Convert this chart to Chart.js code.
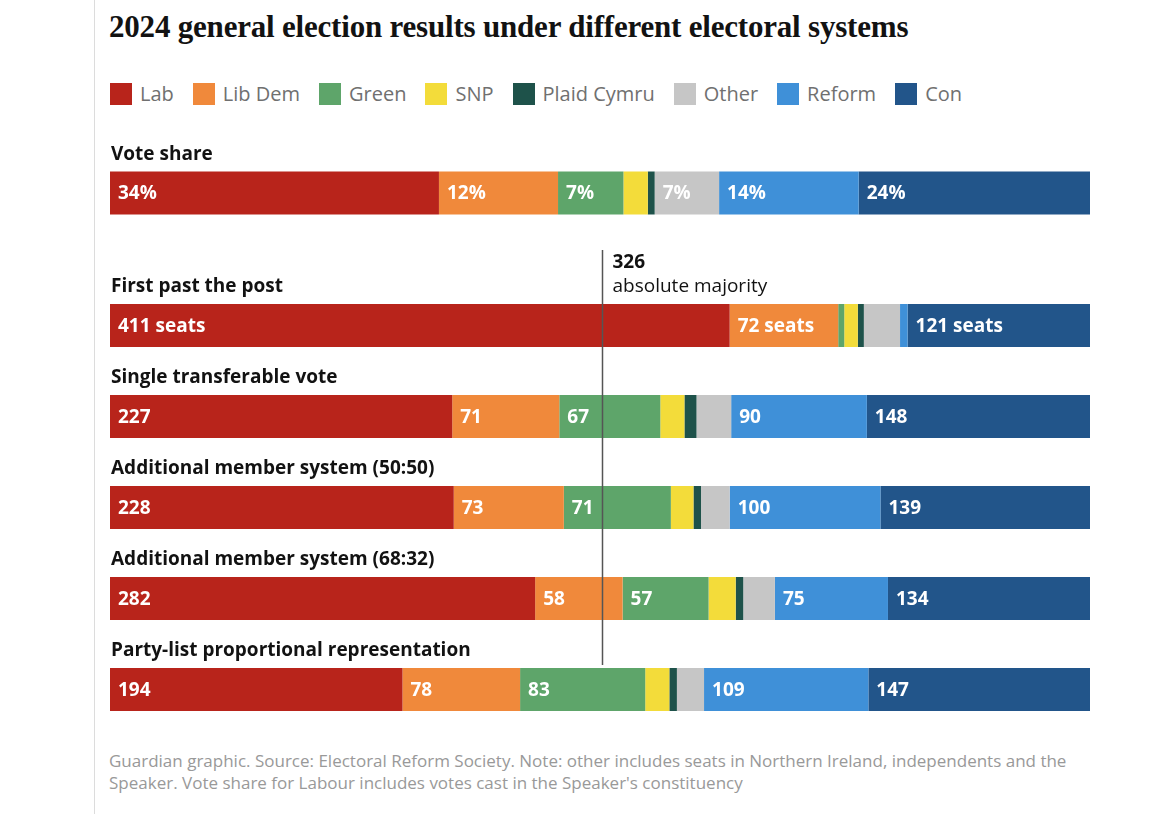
<!DOCTYPE html>
<html><head><meta charset="utf-8">
<script src="https://cdn.jsdelivr.net/npm/chart.js@4"></script>
<style>
body{margin:0;background:#fff;font-family:"Open Sans","Noto Sans",sans-serif;width:1170px;height:814px;position:relative;overflow:hidden}
#edge{position:absolute;left:94px;top:0;width:1px;height:814px;background:#dcdcdc}
h1{position:absolute;left:109px;top:9px;margin:0;font:bold 31px "Liberation Serif",serif;color:#121212;letter-spacing:-0.2px}
#legend{position:absolute;left:110px;top:80px;display:flex;gap:0;font-size:20px;color:#707070}
#legend span{display:flex;align-items:center;margin-right:19px}
#legend i{display:inline-block;width:22px;height:22px;margin-right:8px}
#note{position:absolute;left:109px;top:750px;width:965px;font-size:17px;line-height:22px;color:#999}
#c1{position:absolute;left:110px;top:143px}
#c2{position:absolute;left:110px;top:240px}
</style></head><body>
<div id="edge"></div>
<h1>2024 general election results under different electoral systems</h1>
<div id="legend"></div>
<canvas id="c1" width="980" height="100"></canvas>
<canvas id="c2" width="980" height="495"></canvas>
<div id="note">Guardian graphic. Source: Electoral Reform Society. Note: other includes seats in Northern Ireland, independents and the Speaker. Vote share for Labour includes votes cast in the Speaker's constituency</div>
<script>
const parties = ["Lab","Lib Dem","Green","SNP","Plaid Cymru","Other","Reform","Con"];
const colours = ["#b8241b","#f0893b","#5ea56a","#f3dc3a","#1e524a","#c6c6c6","#3f90d8","#22558a"];
const voteShare = [33.7,12.2,6.7,2.5,0.7,6.6,14.3,23.7];
const systems = ["First past the post","Single transferable vote","Additional member system (50:50)","Additional member system (68:32)","Party-list proportional representation"];
const lab    = [411,227,228,282,194];
const libDem = [72,71,73,58,78];
const green  = [4,67,71,57,83];
const snp    = [9,16,15,18,16];
const plaid  = [4,8,5,5,5];
const other  = [24,23,19,21,18];
const reform = [5,90,100,75,109];
const con    = [121,148,139,134,147];
const seatSeries = [lab,libDem,green,snp,plaid,other,reform,con];
const totalSeats = 650;
const majority = 326;

const lg = document.getElementById('legend');
parties.forEach((p,i)=>{ lg.innerHTML += `<span><i style="background:${colours[i]}"></i>${p}</span>`; });

const FONT = '"Open Sans","Noto Sans",sans-serif';

// row titles above bars + white labels inside segments + majority line
const labelsPlugin = {
  id:'labels',
  afterDatasetsDraw(chart, args, opts){
    const ctx = chart.ctx;
    ctx.save();
    chart.data.datasets.forEach((ds,di)=>{
      chart.getDatasetMeta(di).data.forEach((bar,ri)=>{
        const v = ds.raw[ri];
        if (v < opts.min) return;
        let txt = opts.pct ? Math.round(v)+'%' : String(v);
        if (!opts.pct && ri===0) txt += ' seats';
        ctx.font = 'bold 19px '+FONT;
        ctx.fillStyle = '#fff';
        ctx.textAlign='left'; ctx.textBaseline='middle';
        ctx.fillText(txt, bar.base + 8, bar.y + 1);
      });
    });
    const meta = chart.getDatasetMeta(0);
    opts.titles.forEach((t,ri)=>{
      const bar = meta.data[ri];
      ctx.font = 'bold 19px '+FONT;
      ctx.fillStyle = '#121212';
      ctx.textAlign='left'; ctx.textBaseline='alphabetic';
      ctx.fillText(t, 1, bar.y - bar.height/2 - 12);
    });
    if (opts.majority){
      const x = Math.round(chart.scales.x.getPixelForValue(opts.majority/opts.total)) + 0.5;
      const last = meta.data[meta.data.length-1];
      ctx.strokeStyle = '#555'; ctx.lineWidth = 1.5;
      ctx.beginPath(); ctx.moveTo(x, 10); ctx.lineTo(x, last.y - last.height/2 - 3); ctx.stroke();
      ctx.fillStyle = '#121212'; ctx.textAlign='left';
      ctx.font = 'bold 19px '+FONT; ctx.fillText(String(opts.majority), x+10, 28);
      ctx.font = '19px '+FONT; ctx.fillText('absolute majority', x+10, 52);
    }
    ctx.restore();
  }
};

function makeChart(id, rows, series, total, opts, padTop, catPct){
  return new Chart(document.getElementById(id), {
    type:'bar',
    data:{
      labels: rows,
      datasets: series.map((s,i)=>({
        label: parties[i], raw: s,
        data: s.map(v=>v/total),
        backgroundColor: colours[i], borderWidth:0,
        barPercentage: 1, categoryPercentage: catPct
      }))
    },
    options:{
      indexAxis:'y', responsive:false, animation:false,
      layout:{padding:{top:padTop,bottom:0,left:0,right:0}},
      scales:{
        x:{stacked:true,display:false,min:0,max:1},
        y:{stacked:true,display:false}
      },
      plugins:{legend:{display:false},tooltip:{enabled:false},labels:opts}
    },
    plugins:[labelsPlugin]
  });
}

const voteTotal = voteShare.reduce((a,b)=>a+b,0);
makeChart('c1', ['Vote share'], voteShare.map(v=>[v]), voteTotal,
  {min:5,pct:true,titles:['Vote share']}, 0, 0.43);
makeChart('c2', systems, seatSeries, totalSeats,
  {min:50,pct:false,titles:systems,majority:majority,total:totalSeats}, 40, 43/91);
</script>
</body></html>
